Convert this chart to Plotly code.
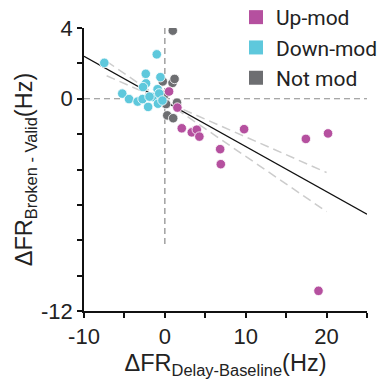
import plotly.graph_objects as go

# ---- data ----
up_x = [0.52, 1.55, 2.09, 3.33, 3.95, 4.27, 6.84, 6.92, 9.8, 17.44, 20.18, 19.0]
up_y = [0.41, -0.5, -1.67, -1.9, -1.75, -2.14, -2.85, -3.70, -1.72, -2.27, -1.96, -10.86]

down_x = [-7.49, -1.0, -2.36, -0.55, -2.33, -2.7, -5.27, -4.43, -3.37, -2.76,
          -2.07, -1.5, -0.9, -0.85, -1.9, -0.7, -0.3]
down_y = [2.03, 2.51, 1.41, 1.22, 0.87, 0.66, 0.29, -0.02, -0.16, -0.02,
          -0.46, 0.1, 0.54, -0.28, 0.12, 0.3, -0.1]

not_x = [0.98, -0.26, 0.95, 1.2, -0.05, 0.15, 0.3, 1.03, 1.5]
not_y = [3.85, 0.98, 0.9, 1.12, 0.22, -0.3, -0.94, -1.1, -0.22]

fit_x = [-10, 25]
fit_y = [2.40, -6.53]
ci_x = [-7.2, 20]
ci_steep_y = [2.11, -6.38]
ci_shallow_y = [1.30, -4.17]

ref_v_x = [0, 0]
ref_v_y = [4, -8.26]
ref_h_x = [-10, 25]
ref_h_y = [0, 0]

x_tickvals = [-10, -5, 0, 5, 10, 15, 20, 25]
x_ticktext = ["-10", "", "0", "", "10", "", "20", ""]
y_tickvals = [4, 2, 0, -2, -4, -6, -8, -10, -12]
y_ticktext = ["4", "", "0", "", "", "", "", "", "-12"]

labels = ["Up-mod", "Down-mod", "Not mod"]
colors = ["#b5509f", "#5ec8dc", "#6d6e71"]

fig = go.Figure()

# reference dashed lines
fig.add_trace(go.Scatter(x=ref_h_x, y=ref_h_y, mode="lines", showlegend=False,
                         line=dict(color="#8a8a8a", width=1.2, dash="6px,4px"), hoverinfo="skip"))
fig.add_trace(go.Scatter(x=ref_v_x, y=ref_v_y, mode="lines", showlegend=False,
                         line=dict(color="#8a8a8a", width=1.2, dash="6px,4px"), hoverinfo="skip"))

# confidence lines
for cy in (ci_steep_y, ci_shallow_y):
    fig.add_trace(go.Scatter(x=ci_x, y=cy, mode="lines", showlegend=False,
                             line=dict(color="#cccccc", width=1.5, dash="9px,5px"), hoverinfo="skip"))

# fit line
fig.add_trace(go.Scatter(x=fit_x, y=fit_y, mode="lines", showlegend=False,
                         line=dict(color="#111111", width=1.4), hoverinfo="skip"))

# points
for xs, ys, c in ((not_x, not_y, colors[2]), (down_x, down_y, colors[1]), (up_x, up_y, colors[0])):
    fig.add_trace(go.Scatter(x=xs, y=ys, mode="markers", showlegend=False,
                             marker=dict(size=9.5, color=c, line=dict(color="white", width=0.8))))

# legend entries (square swatches)
for i, (lab, c) in enumerate(zip(labels, colors)):
    fig.add_trace(go.Scatter(x=[None], y=[None], mode="markers", name=lab,
                             legendgroup=lab,
                             marker=dict(symbol="square", size=14, color=c)))

fig.update_layout(
    width=381, height=390,
    margin=dict(l=84, r=14, t=28, b=79, autoexpand=False),
    plot_bgcolor="white", paper_bgcolor="white",
    font=dict(family="Liberation Sans, Arial, sans-serif", color="#222222"),
    legend=dict(x=(236 - 84) / 283, y=1 + 31 / 283, xanchor="left", yanchor="top",
                font=dict(family="Roboto, sans-serif", size=21, color="#222222"),
                bgcolor="rgba(0,0,0,0)", tracegroupgap=0, itemsizing="trace"),
    xaxis=dict(range=[-10, 25], tickvals=x_tickvals, ticktext=x_ticktext,
               showgrid=False, zeroline=False, showline=True, linecolor="#111111", linewidth=1.6,
               ticks="outside", ticklen=5, tickwidth=1.5, tickcolor="#111111",
               tickfont=dict(size=22),
               title=dict(text="ΔFR<sub>Delay-Baseline</sub>(Hz)", font=dict(size=23.5), standoff=6)),
    yaxis=dict(range=[-12, 4], tickvals=y_tickvals, ticktext=y_ticktext,
               showgrid=False, zeroline=False, showline=True, linecolor="#111111", linewidth=1.6,
               ticks="outside", ticklen=5, tickwidth=1.5, tickcolor="#111111",
               tickfont=dict(size=22),
               title=dict(text="ΔFR<sub>Broken - Valid</sub>(Hz)", font=dict(size=23.5), standoff=2)),
)

fig.write_html("out.html", config={"displayModeBar": False},
               post_script="document.body.style.margin='0';document.body.style.overflow='hidden';")
